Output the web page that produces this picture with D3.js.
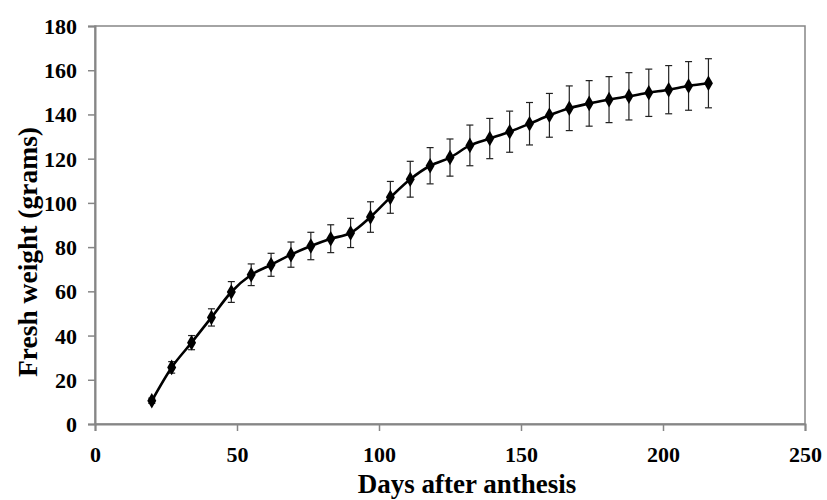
<!DOCTYPE html>
<html>
<head>
<meta charset="utf-8">
<script src="https://cdn.jsdelivr.net/npm/d3@7"></script>
<style>
  html, body { margin: 0; padding: 0; background: #fff; }
  svg { display: block; }
  text { font-family: "Liberation Serif", "Times New Roman", serif; font-weight: bold; fill: #000; }
</style>
</head>
<body>
<svg id="chart" width="827" height="500"></svg>
<script>
// Days after anthesis for each sampling
const days = [20, 27, 34, 41, 48, 55, 62, 69, 76, 83, 90, 97, 104, 111, 118,
              125, 132, 139, 146, 153, 160, 167, 174, 181, 188, 195, 202, 209, 216];
// Mean fresh weight (g)
const weight = [10.5, 25.6, 36.8, 48.2, 59.7, 67.5, 72.0, 76.6, 80.5, 83.8, 86.4, 93.6, 102.5, 110.7, 116.8,
                120.5, 126.0, 129.1, 132.2, 135.8, 139.6, 142.8, 145.0, 146.7, 148.2, 149.8, 151.2, 152.9, 154.1];
// Standard error (g)
const stdErr = [1.2, 2.6, 3.2, 3.9, 4.7, 4.9, 5.2, 5.7, 6.2, 6.3, 6.6, 6.9, 7.2, 8.1, 8.2,
                8.4, 9.2, 9.1, 9.3, 9.6, 9.9, 10.1, 10.3, 10.4, 10.7, 10.7, 10.9, 11.0, 11.1];

const xTicks = [0, 50, 100, 150, 200, 250];
const yTicks = [0, 20, 40, 60, 80, 100, 120, 140, 160, 180];

const data = days.map((d, i) => ({ day: d, w: weight[i], se: stdErr[i] }));

const svg = d3.select("#chart");
const m = { left: 95, right: 22, top: 26, bottom: 76 };
const W = 827, H = 500;

const x = d3.scaleLinear().domain([0, 250]).range([m.left, W - m.right]);
const y = d3.scaleLinear().domain([0, 180]).range([H - m.bottom, m.top]);

const axisColor = "#868686";

// Plot frame (top and right edges)
svg.append("rect")
  .attr("x", x(0)).attr("y", y(180))
  .attr("width", x(250) - x(0)).attr("height", y(0) - y(180))
  .attr("fill", "none").attr("stroke", axisColor).attr("stroke-width", 1.5);

// Axes
const xAxis = svg.append("g")
  .attr("transform", `translate(0,${y(0)})`)
  .call(d3.axisBottom(x).tickValues(xTicks).tickSize(7).tickPadding(12).tickFormat(d3.format("d")));
const yAxis = svg.append("g")
  .attr("transform", `translate(${x(0)},0)`)
  .call(d3.axisLeft(y).tickValues(yTicks).tickSize(7).tickPadding(11).tickFormat(d3.format("d")));

[xAxis, yAxis].forEach(g => {
  g.select(".domain").attr("stroke", axisColor).attr("stroke-width", 2);
  g.selectAll(".tick line").attr("stroke", axisColor).attr("stroke-width", 1.5);
  g.selectAll(".tick text")
    .attr("font-family", '"Liberation Serif", "Times New Roman", serif')
    .attr("font-weight", "bold").attr("font-size", 22).attr("fill", "#000");
});
xAxis.selectAll(".tick text").attr("dy", "0.88em");
yAxis.selectAll(".tick text").attr("dy", "0.34em");

// Axis titles
svg.append("text")
  .attr("x", 467).attr("y", 493)
  .attr("text-anchor", "middle").attr("font-size", 27)
  .text("Days after anthesis");
svg.append("text")
  .attr("transform", "translate(37,252) rotate(-90)")
  .attr("text-anchor", "middle").attr("font-size", 27.5)
  .text("Fresh weight (grams)");

// Error bars
const eb = svg.append("g").attr("stroke", "#222").attr("stroke-width", 1.2);
eb.selectAll("line.v").data(data).join("line")
  .attr("x1", d => x(d.day)).attr("x2", d => x(d.day))
  .attr("y1", d => y(d.w + d.se)).attr("y2", d => y(d.w - d.se));
eb.selectAll("line.t").data(data).join("line")
  .attr("x1", d => x(d.day) - 3.5).attr("x2", d => x(d.day) + 3.5)
  .attr("y1", d => y(d.w + d.se)).attr("y2", d => y(d.w + d.se));
eb.selectAll("line.b").data(data).join("line")
  .attr("x1", d => x(d.day) - 3.5).attr("x2", d => x(d.day) + 3.5)
  .attr("y1", d => y(d.w - d.se)).attr("y2", d => y(d.w - d.se));

// Smoothed growth line
svg.append("path")
  .datum(data)
  .attr("fill", "none").attr("stroke", "#000").attr("stroke-width", 2.6)
  .attr("d", d3.line().x(d => x(d.day)).y(d => y(d.w)).curve(d3.curveMonotoneX));

// Diamond markers
svg.append("g").selectAll("path").data(data).join("path")
  .attr("transform", d => `translate(${x(d.day)},${y(d.w)})`)
  .attr("d", d3.symbol(d3.symbolDiamond, 70))
  .attr("fill", "#000");
</script>
</body>
</html>
